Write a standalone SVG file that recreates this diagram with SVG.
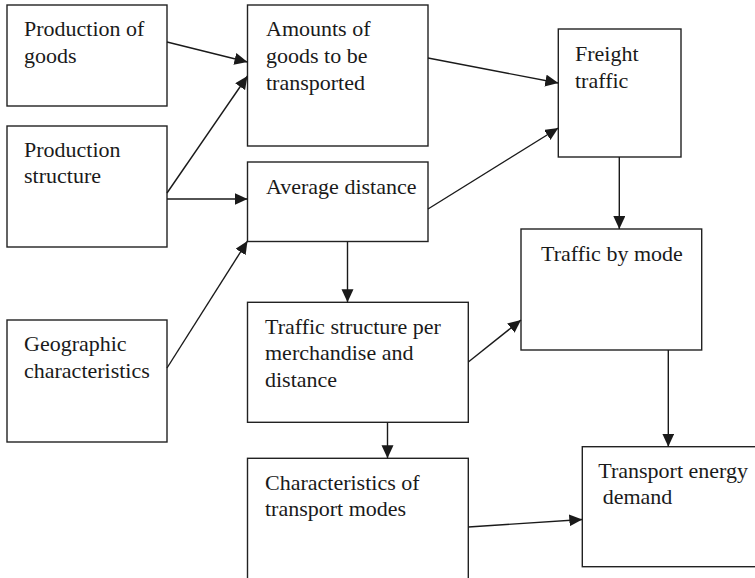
<svg xmlns="http://www.w3.org/2000/svg" width="755" height="578" viewBox="0 0 755 578">
<style>
.box{fill:#fff;stroke:#222;stroke-width:1.4}
.t{font-family:"Liberation Serif","Times New Roman",serif;font-size:22px;fill:#1a1a1a}
.c{fill:none;stroke:#1a1a1a;stroke-width:1.4;marker-end:url(#ah)}
</style>
<defs>
<marker id="ah" markerUnits="userSpaceOnUse" markerWidth="14" markerHeight="13" refX="13" refY="6" orient="auto">
<path d="M0,0 L13,6 L0,12 Z" fill="#1a1a1a"/>
</marker>
</defs>
<rect width="755" height="578" fill="#fff"/>
<g id="n1"><rect class="box" x="7" y="5" width="160" height="101"/><text class="t" x="24" y="36">Production of</text><text class="t" x="24" y="63">goods</text></g>
<g id="n2"><rect class="box" x="7" y="126" width="160" height="121"/><text class="t" x="24" y="157">Production</text><text class="t" x="24" y="183">structure</text></g>
<g id="n3"><rect class="box" x="7" y="320" width="160" height="122"/><text class="t" x="24" y="351">Geographic</text><text class="t" x="24" y="378">characteristics</text></g>
<g id="n4"><rect class="box" x="247.5" y="5" width="180.5" height="141"/><text class="t" x="266" y="36">Amounts of</text><text class="t" x="266" y="63">goods to be</text><text class="t" x="266" y="90">transported</text></g>
<g id="n5"><rect class="box" x="247.5" y="162" width="180.5" height="79.5"/><text class="t" x="266" y="193.5">Average distance</text></g>
<g id="n6"><rect class="box" x="558.3" y="29" width="122.7" height="128"/><text class="t" x="575" y="61">Freight</text><text class="t" x="575" y="88">traffic</text></g>
<g id="n7"><rect class="box" x="521" y="229" width="180.7" height="121"/><text class="t" x="541" y="261">Traffic by mode</text></g>
<g id="n8"><rect class="box" x="247.5" y="302.3" width="220.8" height="120"/><text class="t" x="265" y="333.5">Traffic structure per</text><text class="t" x="265" y="360">merchandise and</text><text class="t" x="265" y="387">distance</text></g>
<g id="n9"><rect class="box" x="247.5" y="458.3" width="220.8" height="150"/><text class="t" x="265" y="489.5">Characteristics of</text><text class="t" x="265" y="516">transport modes</text></g>
<g id="n10"><rect class="box" x="582.3" y="446.7" width="190" height="120"/><text class="t" x="598.3" y="478.3">Transport energy</text><text class="t" x="602.7" y="504">demand</text></g>
<g id="connectors">
<line class="c" x1="167" y1="42" x2="247.5" y2="62"/>
<line class="c" x1="167" y1="193" x2="247.5" y2="76"/>
<line class="c" x1="167" y1="199" x2="247.5" y2="199"/>
<line class="c" x1="167" y1="368" x2="247.5" y2="241"/>
<line class="c" x1="428" y1="58" x2="558.3" y2="83"/>
<line class="c" x1="428" y1="209" x2="558.3" y2="128"/>
<line class="c" x1="619.3" y1="157" x2="619.3" y2="229"/>
<line class="c" x1="347.5" y1="241.5" x2="347.5" y2="302.3"/>
<line class="c" x1="468.3" y1="362" x2="521" y2="320"/>
<line class="c" x1="387.5" y1="422.3" x2="387.5" y2="458.3"/>
<line class="c" x1="668.3" y1="350" x2="668.3" y2="446.7"/>
<line class="c" x1="468.3" y1="527" x2="582.3" y2="519.5"/>
</g>
</svg>
